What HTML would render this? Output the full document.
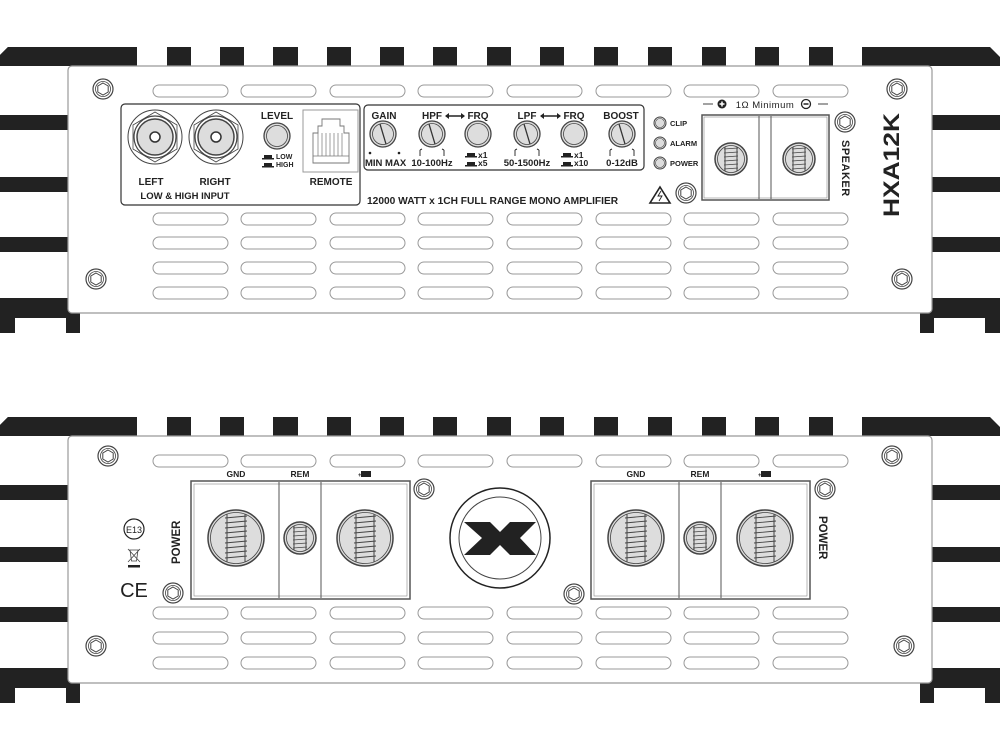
<!DOCTYPE html>
<html><head><meta charset="utf-8"><style>html,body{margin:0;padding:0;background:#fff}svg{display:block}text{font-family:"Liberation Sans",Arial,sans-serif;font-weight:bold;fill:#222}</style></head><body>
<svg width="1000" height="750" viewBox="0 0 1000 750" xmlns="http://www.w3.org/2000/svg">
<defs>
<g id="screw"><circle r="10" fill="#fff" stroke="#444" stroke-width="1.2"/><circle r="7.5" fill="none" stroke="#444" stroke-width="0.8"/><polygon points="0,-6 5.2,-3 5.2,3 0,6 -5.2,3 -5.2,-3" fill="none" stroke="#444" stroke-width="1"/></g>
<rect id="vent" width="75" height="12" rx="6" fill="#fff" stroke="#999" stroke-width="1"/>
<g id="frame">
<path d="M0,55 L8,47 L137,47 L137,66 L68,66 L68,47 Z" fill="#222"/>
<path d="M0,55 L8,47 L137,47 L137,66 L0,66 Z" fill="#222"/>
<rect x="167" y="47" width="24" height="19" fill="#222"/>
<rect x="220" y="47" width="24" height="19" fill="#222"/>
<rect x="273" y="47" width="25" height="19" fill="#222"/>
<rect x="327" y="47" width="24" height="19" fill="#222"/>
<rect x="380" y="47" width="24" height="19" fill="#222"/>
<rect x="433" y="47" width="24" height="19" fill="#222"/>
<rect x="487" y="47" width="24" height="19" fill="#222"/>
<rect x="540" y="47" width="24" height="19" fill="#222"/>
<rect x="594" y="47" width="24" height="19" fill="#222"/>
<rect x="648" y="47" width="24" height="19" fill="#222"/>
<rect x="702" y="47" width="24" height="19" fill="#222"/>
<rect x="755" y="47" width="24" height="19" fill="#222"/>
<rect x="809" y="47" width="24" height="19" fill="#222"/>
<path d="M862,47 L990,47 L1000,57 L1000,66 L862,66 Z" fill="#222"/>
<rect x="0" y="115" width="72" height="15" fill="#222"/>
<rect x="0" y="177" width="72" height="15" fill="#222"/>
<rect x="0" y="237" width="72" height="15" fill="#222"/>
<path d="M0,298 L72,298 L80,298 L80,333 L66,333 L66,318 L15,318 L15,333 L0,333 Z" fill="#222"/>
<rect x="928" y="115" width="72" height="15" fill="#222"/>
<rect x="928" y="177" width="72" height="15" fill="#222"/>
<rect x="928" y="237" width="72" height="15" fill="#222"/>
<path d="M1000,298 L920,298 L920,333 L934,333 L934,318 L985,318 L985,333 L1000,333 Z" fill="#222"/>
<rect x="68" y="66" width="864" height="247" rx="4" fill="#fff" stroke="#999" stroke-width="1.2"/>
</g>
<g id="bigterm"><circle r="28" fill="#ddd" stroke="#444" stroke-width="1.5"/><circle r="25.5" fill="none" stroke="#444" stroke-width="0.8"/>
<line x1="-9" y1="-24" x2="-9" y2="24" stroke="#444"/><line x1="9" y1="-24" x2="9" y2="24" stroke="#444"/>
<path d="M-11,-20 L11,-22 M-11,-15 L11,-17 M-11,-10 L11,-12 M-11,-5 L11,-7 M-11,0 L11,-2 M-11,5 L11,3 M-11,10 L11,8 M-11,15 L11,13 M-11,20 L11,18" stroke="#444" stroke-width="0.9"/></g>
<g id="smallterm"><circle r="16" fill="#ddd" stroke="#444" stroke-width="1.5"/><circle r="13.5" fill="none" stroke="#444" stroke-width="0.8"/>
<line x1="-6" y1="-12" x2="-6" y2="12" stroke="#444"/><line x1="6" y1="-12" x2="6" y2="12" stroke="#444"/>
<path d="M-7,-10 L7,-11 M-7,-6 L7,-7 M-7,-2 L7,-3 M-7,2 L7,1 M-7,6 L7,5 M-7,10 L7,9" stroke="#444" stroke-width="0.8"/></g>
<g id="knob"><circle r="13" fill="#ddd" stroke="#444" stroke-width="1.3"/><circle r="10.5" fill="none" stroke="#444" stroke-width="0.8"/></g>
<g id="knobp"><use href="#knob"/><line x1="-3" y1="-10" x2="3" y2="10" stroke="#333" stroke-width="1.3"/></g>
<g id="slider"><rect x="-4" y="-3" width="8" height="3" fill="#222"/><rect x="-6" y="0" width="12" height="1.5" fill="#222"/></g>
<g id="bracket"><path d="M-12,-4 L-12,2 M12,-4 L12,2 M-12,-4 L-10,-5 M12,-4 L10,-5" stroke="#333" stroke-width="1" fill="none"/></g>
</defs>

<!-- TOP VIEW -->
<use href="#frame"/>
<g>
<use href="#vent" x="153" y="85"/><use href="#vent" x="241" y="85"/><use href="#vent" x="330" y="85"/><use href="#vent" x="418" y="85"/><use href="#vent" x="507" y="85"/><use href="#vent" x="596" y="85"/><use href="#vent" x="684" y="85"/><use href="#vent" x="773" y="85"/>
<use href="#vent" x="153" y="213"/><use href="#vent" x="241" y="213"/><use href="#vent" x="330" y="213"/><use href="#vent" x="418" y="213"/><use href="#vent" x="507" y="213"/><use href="#vent" x="596" y="213"/><use href="#vent" x="684" y="213"/><use href="#vent" x="773" y="213"/>
<use href="#vent" x="153" y="237"/><use href="#vent" x="241" y="237"/><use href="#vent" x="330" y="237"/><use href="#vent" x="418" y="237"/><use href="#vent" x="507" y="237"/><use href="#vent" x="596" y="237"/><use href="#vent" x="684" y="237"/><use href="#vent" x="773" y="237"/>
<use href="#vent" x="153" y="262"/><use href="#vent" x="241" y="262"/><use href="#vent" x="330" y="262"/><use href="#vent" x="418" y="262"/><use href="#vent" x="507" y="262"/><use href="#vent" x="596" y="262"/><use href="#vent" x="684" y="262"/><use href="#vent" x="773" y="262"/>
<use href="#vent" x="153" y="287"/><use href="#vent" x="241" y="287"/><use href="#vent" x="330" y="287"/><use href="#vent" x="418" y="287"/><use href="#vent" x="507" y="287"/><use href="#vent" x="596" y="287"/><use href="#vent" x="684" y="287"/><use href="#vent" x="773" y="287"/>
</g>
<rect x="0" y="0" width="0" height="0"/>
<!-- screws -->
<use href="#screw" x="103" y="89"/><use href="#screw" x="96" y="279"/><use href="#screw" x="897" y="89"/><use href="#screw" x="902" y="279"/><use href="#screw" x="686" y="193"/><use href="#screw" x="845" y="122"/>

<!-- input box -->
<rect x="121" y="104" width="239" height="101" rx="4" fill="#fff" stroke="#333" stroke-width="1.2"/>
<g transform="translate(155,137)"><circle r="27" fill="#fff" stroke="#444" stroke-width="1"/><polygon points="0,-25 22,-12 22,12 0,25 -22,12 -22,-12" fill="none" stroke="#444" stroke-width="0.8"/><circle r="21" fill="#fff" stroke="#444" stroke-width="1.2"/><circle r="18" fill="#ddd" stroke="#444" stroke-width="1.5"/><circle r="5" fill="#fff" stroke="#333" stroke-width="1.5"/></g>
<g transform="translate(216,137)"><circle r="27" fill="#fff" stroke="#444" stroke-width="1"/><polygon points="0,-25 22,-12 22,12 0,25 -22,12 -22,-12" fill="none" stroke="#444" stroke-width="0.8"/><circle r="21" fill="#fff" stroke="#444" stroke-width="1.2"/><circle r="18" fill="#ddd" stroke="#444" stroke-width="1.5"/><circle r="5" fill="#fff" stroke="#333" stroke-width="1.5"/></g>
<text x="277" y="119" font-size="10" text-anchor="middle">LEVEL</text>
<use href="#knob" x="277" y="136"/>
<use href="#slider" x="268" y="158"/><use href="#slider" x="268" y="166"/>
<text x="276" y="159" font-size="7">LOW</text><text x="276" y="167" font-size="7">HIGH</text>
<rect x="303" y="110" width="55" height="62" fill="#fff" stroke="#999" stroke-width="1"/>
<path d="M313,163 L313,133 L318,133 L318,126 L322,126 L322,119 L340,119 L340,126 L344,126 L344,133 L349,133 L349,163 Z" fill="none" stroke="#777" stroke-width="0.9"/>
<path d="M313,156 L349,156 M318,133 L318,156 M322,133 L322,156 M326,133 L326,156 M330,133 L330,156 M334,133 L334,156 M338,133 L338,156 M342,133 L342,156" stroke="#777" stroke-width="0.7"/>
<text x="151" y="185" font-size="10" text-anchor="middle">LEFT</text>
<text x="215" y="185" font-size="10" text-anchor="middle">RIGHT</text>
<text x="331" y="185" font-size="10" text-anchor="middle">REMOTE</text>
<text x="185" y="199" font-size="9.5" text-anchor="middle">LOW &amp; HIGH INPUT</text>

<!-- controls box -->
<rect x="364" y="105" width="280" height="65" rx="4" fill="#fff" stroke="#333" stroke-width="1.2"/>
<text x="384" y="119" font-size="10" text-anchor="middle">GAIN</text>
<text x="432" y="119" font-size="10" text-anchor="middle">HPF</text>
<text x="478" y="119" font-size="10" text-anchor="middle">FRQ</text>
<path d="M446,116 L464,116" stroke="#222" stroke-width="1.5"/><path d="M445,116 l4,-3 v6 z M465,116 l-4,-3 v6 z" fill="#222"/>
<text x="527" y="119" font-size="10" text-anchor="middle">LPF</text>
<text x="574" y="119" font-size="10" text-anchor="middle">FRQ</text>
<path d="M541,116 L560,116" stroke="#222" stroke-width="1.5"/><path d="M540,116 l4,-3 v6 z M561,116 l-4,-3 v6 z" fill="#222"/>
<text x="621" y="119" font-size="10" text-anchor="middle">BOOST</text>
<use href="#knobp" x="383" y="134"/><use href="#knobp" x="432" y="134"/><use href="#knob" x="478" y="134"/><use href="#knobp" x="527" y="134"/><use href="#knob" x="574" y="134"/><use href="#knobp" x="622" y="134"/>
<circle cx="370" cy="153" r="1.3" fill="#222"/><circle cx="399" cy="153" r="1.3" fill="#222"/>
<use href="#bracket" x="432" y="154"/><use href="#bracket" x="527" y="154"/><use href="#bracket" x="622" y="154"/>
<text x="365" y="166" font-size="9.5">MIN MAX</text>
<text x="432" y="166" font-size="9.5" text-anchor="middle">10-100Hz</text>
<text x="527" y="166" font-size="9.5" text-anchor="middle">50-1500Hz</text>
<text x="622" y="166" font-size="9.5" text-anchor="middle">0-12dB</text>
<use href="#slider" x="471" y="156"/><use href="#slider" x="471" y="165"/>
<text x="478" y="158" font-size="8.5">x1</text><text x="478" y="166" font-size="8.5">x5</text>
<use href="#slider" x="567" y="156"/><use href="#slider" x="567" y="165"/>
<text x="574" y="158" font-size="8.5">x1</text><text x="574" y="166" font-size="8.5">x10</text>
<g fill="#ddd" stroke="#444" stroke-width="1"><circle cx="660" cy="123" r="6"/><circle cx="660" cy="143" r="6"/><circle cx="660" cy="163" r="6"/></g>
<g fill="none" stroke="#444" stroke-width="0.6"><circle cx="660" cy="123" r="4.5"/><circle cx="660" cy="143" r="4.5"/><circle cx="660" cy="163" r="4.5"/></g>
<text x="670" y="126" font-size="7.5">CLIP</text><text x="670" y="146" font-size="7.5">ALARM</text><text x="670" y="166" font-size="7.5">POWER</text>
<text x="367" y="204" font-size="10.2">12000 WATT x 1CH FULL RANGE MONO AMPLIFIER</text>
<path d="M660,187 L670,203 L650,203 Z" fill="#fff" stroke="#222" stroke-width="1.6"/><path d="M661,191 L658,196 L662,196 L659,201" stroke="#222" stroke-width="0.9" fill="none"/>

<!-- speaker -->
<text x="765" y="108" font-size="9.5" text-anchor="middle" style="font-weight:normal;letter-spacing:0.5px">1Ω Minimum</text>
<path d="M703,104 L713,104 M818,104 L828,104" stroke="#444" stroke-width="1"/>
<circle cx="722" cy="104" r="4.5" fill="#222"/><path d="M719.5,104 h5 M722,101.5 v5" stroke="#fff" stroke-width="1.5"/>
<circle cx="806" cy="104" r="4.5" fill="#fff" stroke="#222" stroke-width="1.3"/><path d="M803.5,104 h5" stroke="#222" stroke-width="1.5"/>
<rect x="702" y="115" width="127" height="85" fill="#fff" stroke="#555" stroke-width="1.5"/>
<rect x="704" y="117" width="123" height="81" fill="none" stroke="#888" stroke-width="0.6"/>
<path d="M759,116 L759,199 M771,116 L771,199" stroke="#555" stroke-width="1"/>
<use href="#smallterm" x="731" y="159"/><use href="#smallterm" x="799" y="159"/>
<text transform="translate(842,140) rotate(90)" font-size="11" style="letter-spacing:0.5px">SPEAKER</text>
<text transform="translate(899,165) rotate(-90)" font-size="22" text-anchor="middle" textLength="104" lengthAdjust="spacingAndGlyphs">HXA12K</text>

<!-- BOTTOM VIEW -->
<use href="#frame" y="370"/>
<g>
<use href="#vent" x="153" y="455"/><use href="#vent" x="241" y="455"/><use href="#vent" x="330" y="455"/><use href="#vent" x="418" y="455"/><use href="#vent" x="507" y="455"/><use href="#vent" x="596" y="455"/><use href="#vent" x="684" y="455"/><use href="#vent" x="773" y="455"/>
<use href="#vent" x="153" y="607"/><use href="#vent" x="241" y="607"/><use href="#vent" x="330" y="607"/><use href="#vent" x="418" y="607"/><use href="#vent" x="507" y="607"/><use href="#vent" x="596" y="607"/><use href="#vent" x="684" y="607"/><use href="#vent" x="773" y="607"/>
<use href="#vent" x="153" y="632"/><use href="#vent" x="241" y="632"/><use href="#vent" x="330" y="632"/><use href="#vent" x="418" y="632"/><use href="#vent" x="507" y="632"/><use href="#vent" x="596" y="632"/><use href="#vent" x="684" y="632"/><use href="#vent" x="773" y="632"/>
<use href="#vent" x="153" y="657"/><use href="#vent" x="241" y="657"/><use href="#vent" x="330" y="657"/><use href="#vent" x="418" y="657"/><use href="#vent" x="507" y="657"/><use href="#vent" x="596" y="657"/><use href="#vent" x="684" y="657"/><use href="#vent" x="773" y="657"/>
</g>
<use href="#screw" x="108" y="456"/><use href="#screw" x="96" y="646"/><use href="#screw" x="892" y="456"/><use href="#screw" x="904" y="646"/><use href="#screw" x="424" y="489"/><use href="#screw" x="574" y="594"/><use href="#screw" x="825" y="489"/><use href="#screw" x="173" y="593"/>

<!-- power box left -->
<rect x="191" y="481" width="219" height="118" fill="#fff" stroke="#555" stroke-width="1.5"/>
<rect x="194" y="484" width="213" height="112" fill="none" stroke="#888" stroke-width="0.6"/>
<path d="M279,482 L279,598 M321,482 L321,598" stroke="#555" stroke-width="1"/>
<use href="#bigterm" x="236" y="538"/><use href="#smallterm" x="300" y="538"/><use href="#bigterm" x="365" y="538"/>
<text x="236" y="477" font-size="8.5" text-anchor="middle">GND</text>
<text x="300" y="477" font-size="8.5" text-anchor="middle">REM</text>
<text x="358" y="477" font-size="6">+</text><rect x="361" y="471" width="10" height="6" fill="#222"/>
<text transform="translate(180,564) rotate(-90)" font-size="11.5">POWER</text>
<!-- power box right -->
<rect x="591" y="481" width="219" height="118" fill="#fff" stroke="#555" stroke-width="1.5"/>
<rect x="594" y="484" width="213" height="112" fill="none" stroke="#888" stroke-width="0.6"/>
<path d="M679,482 L679,598 M721,482 L721,598" stroke="#555" stroke-width="1"/>
<use href="#bigterm" x="636" y="538"/><use href="#smallterm" x="700" y="538"/><use href="#bigterm" x="765" y="538"/>
<text x="636" y="477" font-size="8.5" text-anchor="middle">GND</text>
<text x="700" y="477" font-size="8.5" text-anchor="middle">REM</text>
<text x="758" y="477" font-size="6">+</text><rect x="761" y="471" width="10" height="6" fill="#222"/>
<text transform="translate(819,516) rotate(90)" font-size="11.5">POWER</text>
<!-- X logo -->
<circle cx="500" cy="538" r="50" fill="#fff" stroke="#222" stroke-width="1.5"/>
<circle cx="500" cy="538" r="41" fill="none" stroke="#444" stroke-width="1"/>
<polygon points="464,522 490,522 500,532 510,522 536,522 520,538 536,555 510,555 500,545 490,555 464,555 482,538" fill="#222"/>
<!-- marks -->
<circle cx="134" cy="529" r="10" fill="#fff" stroke="#222" stroke-width="1.2"/>
<text x="134" y="533" font-size="9" text-anchor="middle" style="font-weight:normal">E13</text>
<path d="M129,550 h10 M130,550 l1.5,11 h5 l1.5,-11 M128,549 l12,13 M140,549 l-12,13" stroke="#444" stroke-width="0.8" fill="none"/>
<rect x="128" y="565" width="12" height="2.5" fill="#222"/>
<text x="134" y="597" font-size="20" text-anchor="middle" style="font-weight:normal">CE</text>
</svg>
</body></html>
